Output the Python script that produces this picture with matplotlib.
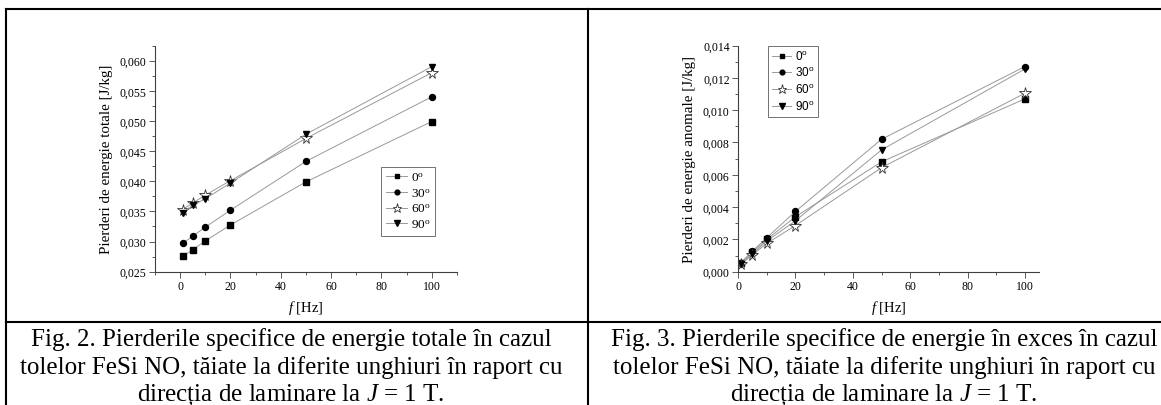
import matplotlib.pyplot as plt
from matplotlib.lines import Line2D
from matplotlib.ticker import MultipleLocator, FuncFormatter

plt.rcParams['font.family'] = ['Liberation Serif', 'DejaVu Serif']
plt.rcParams['mathtext.fontset'] = 'custom'
plt.rcParams['mathtext.rm'] = 'Liberation Serif'
plt.rcParams['mathtext.it'] = 'Liberation Serif:italic'
plt.rcParams['mathtext.sf'] = 'Liberation Sans'

# frecventa [Hz]
f_hz = [1, 5, 10, 20, 50, 100]
unghiuri = ['0', '30', '60', '90']

# pierderi totale [J/kg]
totale_0 = [0.02755, 0.02865, 0.0301, 0.03275, 0.0399, 0.0499]
totale_30 = [0.0297, 0.0309, 0.0324, 0.0352, 0.0433, 0.0540]
totale_60 = [0.0353, 0.0364, 0.0377, 0.0401, 0.0471, 0.0580]
totale_90 = [0.0348, 0.0360, 0.0371, 0.0397, 0.0478, 0.0590]

# pierderi anomale (exces) [J/kg]
anomale_0 = [0.00055, 0.0012, 0.0020, 0.0034, 0.0068, 0.0107]
anomale_30 = [0.00055, 0.00128, 0.0021, 0.00373, 0.0082, 0.0127]
anomale_60 = [0.00045, 0.00104, 0.00175, 0.00286, 0.00644, 0.01105]
anomale_90 = [0.0005, 0.0011, 0.0019, 0.00315, 0.00754, 0.01255]

caption_2 = ['Fig. 2. Pierderile specifice de energie totale în cazul',
             'tolelor FeSi NO, tăiate la diferite unghiuri în raport cu',
             'direcția de laminare la $J$ = 1 T.']
caption_3 = ['Fig. 3. Pierderile specifice de energie în exces în cazul',
             'tolelor FeSi NO, tăiate la diferite unghiuri în raport cu',
             'direcția de laminare la $J$ = 1 T.']

markers = [dict(marker='s', ms=4, mfc='black', mec='black'),
           dict(marker='o', ms=4.3, mfc='black', mec='black'),
           dict(marker='*', ms=8.5, mfc='white', mec='0.2', mew=0.6),
           dict(marker='v', ms=5, mfc='black', mec='black')]

virgula = FuncFormatter(lambda v, p: f'{v:.3f}'.replace('.', ','))


def stil_axe(ax):
    for s in ['top', 'right']:
        ax.spines[s].set_visible(False)
    for s in ['left', 'bottom']:
        ax.spines[s].set_linewidth(0.8)
        ax.spines[s].set_color('0.25')
    ax.tick_params(which='major', direction='out', length=4, width=0.6,
                   labelsize=8.5, color='0.25', pad=2)
    ax.tick_params(which='minor', direction='out', length=2, width=0.6,
                   color='0.25')
    ax.xaxis.set_major_locator(MultipleLocator(20))
    ax.xaxis.set_minor_locator(MultipleLocator(10))
    ax.yaxis.set_major_formatter(virgula)
    ax.set_xlabel('$f$ [Hz]', fontsize=10.5, labelpad=4)


fig = plt.figure(figsize=(11.61, 4.06), dpi=100)

# Fig. 2 - pierderi totale
ax1 = fig.add_axes([0.1335, 0.3283, 0.2601, 0.5571])
for y, st, u in zip([totale_0, totale_30, totale_60, totale_90], markers, unghiuri):
    ax1.plot(f_hz, y, color='0.6', lw=0.7, label=u + '$^{\\rm o}$', **st)
ax1.set_xlim(-10, 110)
ax1.set_ylim(0.025, 0.0625)
ax1.yaxis.set_major_locator(MultipleLocator(0.005))
ax1.yaxis.set_minor_locator(MultipleLocator(0.0025))
stil_axe(ax1)
ax1.set_ylabel('Pierderi de energie totale [J/kg]', fontsize=10.8, labelpad=5)
leg1 = ax1.legend(loc='lower left', bbox_to_anchor=(0.75, 0.16), fontsize=9.5,
                  frameon=True, fancybox=False, edgecolor='0.3', handlelength=1.6,
                  handletextpad=0.3, labelspacing=0.25, borderpad=0.35,
                  borderaxespad=0, markerscale=0.8)
leg1.get_frame().set_linewidth(0.7)

# Fig. 3 - pierderi anomale
ax2 = fig.add_axes([0.6357, 0.3283, 0.2595, 0.5571])
for y, st, u in zip([anomale_0, anomale_30, anomale_60, anomale_90], markers, unghiuri):
    ax2.plot(f_hz, y, color='0.6', lw=0.7, label=u + '$^{\\mathsf{o}}$', **st)
ax2.set_xlim(0, 105)
ax2.set_ylim(0, 0.014)
ax2.yaxis.set_major_locator(MultipleLocator(0.002))
ax2.yaxis.set_minor_locator(MultipleLocator(0.001))
stil_axe(ax2)
ax2.set_ylabel('Pierderi de energie anomale [J/kg]', fontsize=10.8, labelpad=5)
leg2 = ax2.legend(loc='upper left', bbox_to_anchor=(0.1, 1.0),
                  prop={'family': 'Liberation Sans', 'size': 8.5},
                  frameon=True, fancybox=False, edgecolor='0.3', handlelength=1.6,
                  handletextpad=0.3, labelspacing=0.3, borderpad=0.35,
                  borderaxespad=0, markerscale=0.8)
leg2.get_frame().set_linewidth(0.7)

# chenarul tabelului
W, H = 1161, 406
linii = [((6, 1161), (10, 10)), ((6, 6), (10, 406)),
         ((588, 588), (10, 406)), ((6, 1161), (323, 323))]
for xs, ys in linii:
    fig.add_artist(Line2D([x / W for x in xs], [1 - y / H for y in ys],
                          color='black', lw=1.5, transform=fig.transFigure))

# legendele figurilor
for cx, rows in [(291, caption_2), (884, caption_3)]:
    for yb, t in zip([346, 374, 401], rows):
        fig.text(cx / W, 1 - yb / H, t, ha='center', va='baseline', fontsize=18)

fig.savefig('out.png', dpi=100)
